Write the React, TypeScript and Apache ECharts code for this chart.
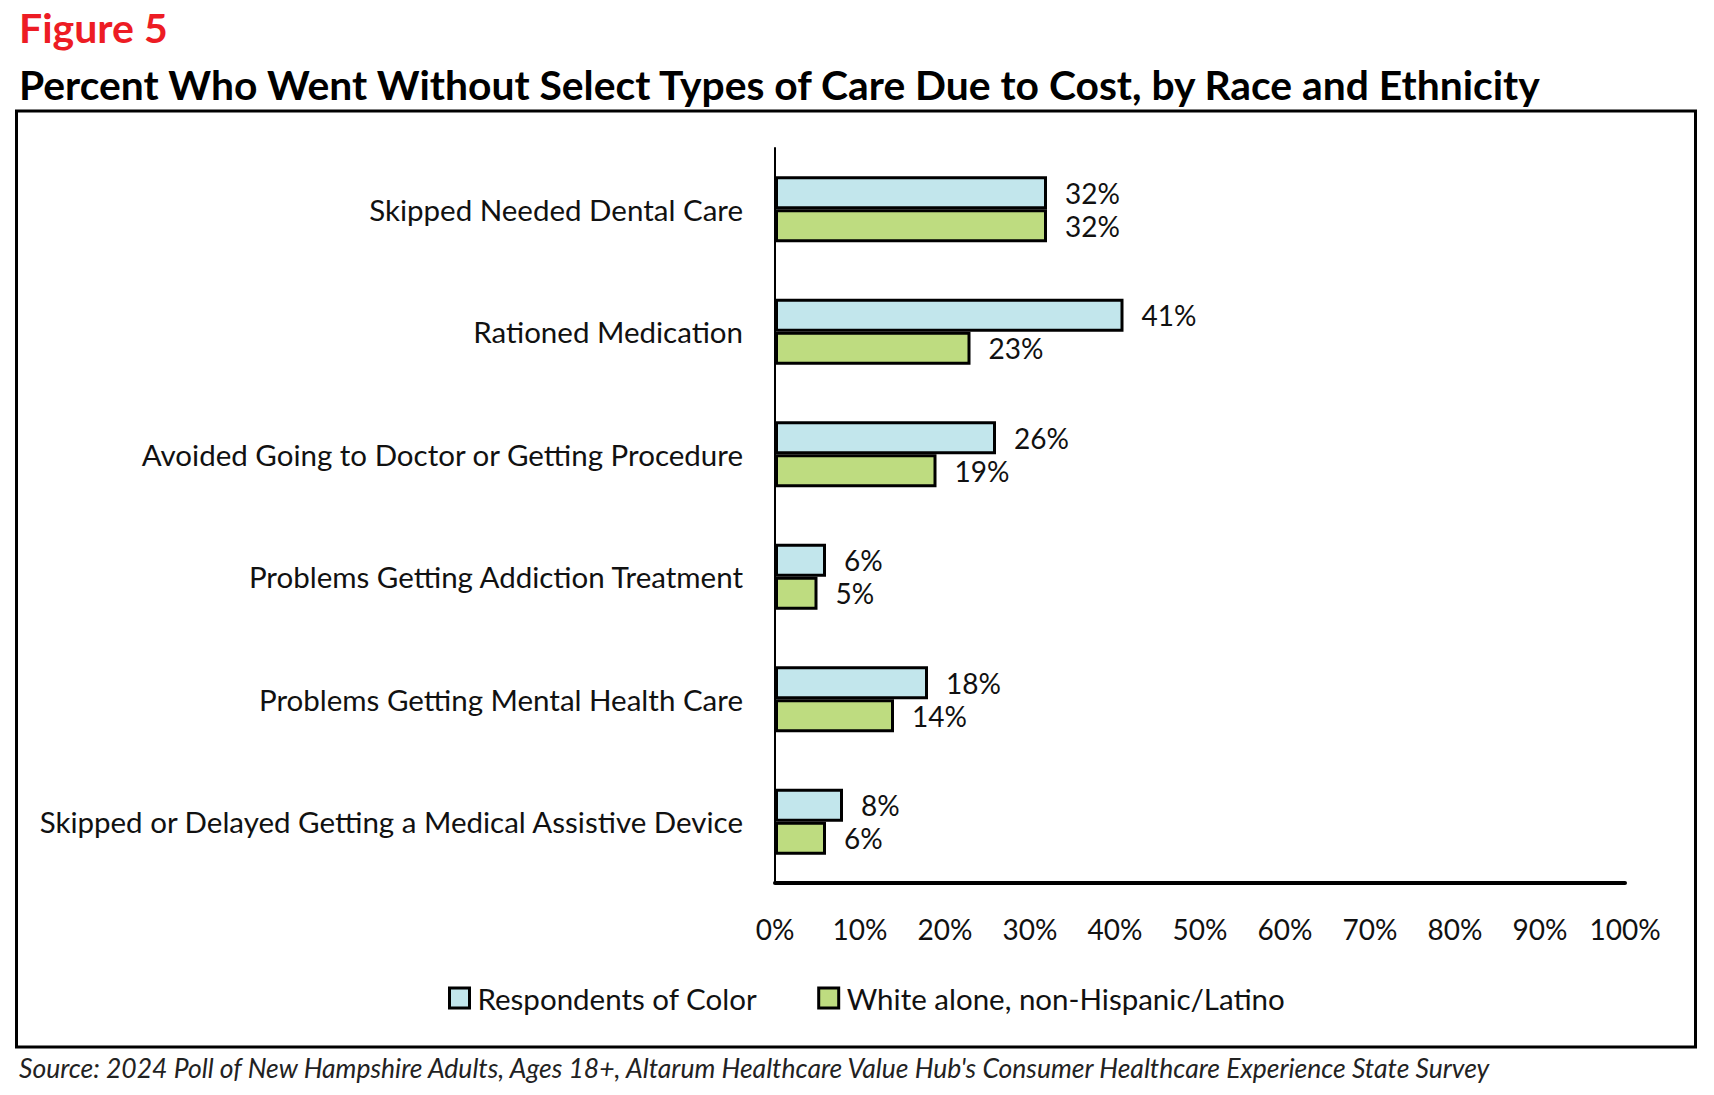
import React, { useEffect, useRef } from "react";
import * as echarts from "echarts";

const categories = [
  "Skipped Needed Dental Care",
  "Rationed Medication",
  "Avoided Going to Doctor or Getting Procedure",
  "Problems Getting Addiction Treatment",
  "Problems Getting Mental Health Care",
  "Skipped or Delayed Getting a Medical Assistive Device",
];
const seriesNames = ["Respondents of Color", "White alone, non-Hispanic/Latino"];
const respondentsOfColor = [32, 41, 26, 6, 18, 8];
const whiteAlone = [32, 23, 19, 5, 14, 6];
const xTicks = [0, 10, 20, 30, 40, 50, 60, 70, 80, 90, 100];

const FONT = "Lato, 'Noto Sans', sans-serif";

export default function App() {
  const ref = useRef<HTMLDivElement>(null);

  useEffect(() => {
    if (!ref.current) return;
    const chart = echarts.init(ref.current, undefined, { renderer: "svg" });
    const labelStyle = {
      show: true,
      position: "right" as const,
      distance: 18,
      formatter: "{c}%",
      fontSize: 28,
      fontFamily: FONT,
      color: "#111",
    };
    chart.setOption({
      animation: false,
      backgroundColor: "#fff",
      textStyle: { fontFamily: FONT },
      graphic: [
        {
          type: "rect",
          shape: { x: 16.5, y: 111, width: 1679, height: 936 },
          style: { fill: "none", stroke: "#000", lineWidth: 3 },
          z: -1,
        },
        {
          type: "text",
          x: 19,
          y: 27,
          style: {
            text: "Figure 5",
            fontSize: 41,
            fontWeight: "bold",
            fontFamily: FONT,
            fill: "#ed1c24",
            verticalAlign: "middle",
          },
        },
        {
          type: "text",
          x: 19,
          y: 84,
          style: {
            text: "Percent Who Went Without Select Types of Care Due to Cost, by Race and Ethnicity",
            fontSize: 40.8,
            fontWeight: "bold",
            fontFamily: FONT,
            fill: "#000",
            verticalAlign: "middle",
          },
        },
        {
          type: "text",
          x: 19,
          y: 1068,
          style: {
            text: "Source: 2024 Poll of New Hampshire Adults, Ages 18+, Altarum Healthcare Value Hub's Consumer Healthcare Experience State Survey",
            fontSize: 26.5,
            fontStyle: "italic",
            fontFamily: FONT,
            fill: "#222",
            verticalAlign: "middle",
          },
        },
      ],
      legend: {
        data: seriesNames,
        left: 443,
        top: 977,
        itemWidth: 20,
        itemHeight: 20,
        itemGap: 60,
        icon: "rect",
        itemStyle: { borderColor: "#000", borderWidth: 3 },
        textStyle: {
          fontSize: 29.5,
          fontFamily: FONT,
          color: "#111",
          lineHeight: 32,
          padding: [0, 0, 0, 3],
        },
      },
      grid: { left: 775, right: 89, top: 148, bottom: 212, containLabel: false },
      xAxis: {
        type: "value",
        min: xTicks[0],
        max: xTicks[xTicks.length - 1],
        interval: xTicks[1] - xTicks[0],
        axisLine: { show: true, lineStyle: { color: "#000", width: 4 } },
        axisTick: { show: false },
        splitLine: { show: false },
        axisLabel: {
          formatter: "{value}%",
          fontSize: 28,
          fontFamily: FONT,
          color: "#111",
          margin: 32,
        },
      },
      yAxis: {
        type: "category",
        inverse: true,
        data: categories,
        axisLine: { show: true, lineStyle: { color: "#000", width: 2 } },
        axisTick: { show: false },
        axisLabel: { fontSize: 29.5, fontFamily: FONT, color: "#111", margin: 32 },
      },
      series: [
        {
          name: seriesNames[0],
          type: "bar",
          data: respondentsOfColor,
          barWidth: 33,
          barGap: "0%",
          itemStyle: { color: "#c2e6ec", borderColor: "#000", borderWidth: 3 },
          label: labelStyle,
        },
        {
          name: seriesNames[1],
          type: "bar",
          data: whiteAlone,
          barWidth: 33,
          barGap: "0%",
          itemStyle: { color: "#bedc80", borderColor: "#000", borderWidth: 3 },
          label: labelStyle,
        },
      ],
    });
    return () => chart.dispose();
  }, []);

  return (
    <div
      ref={ref}
      style={{ position: "absolute", left: 0, top: 0, width: 1714, height: 1095 }}
    />
  );
}
